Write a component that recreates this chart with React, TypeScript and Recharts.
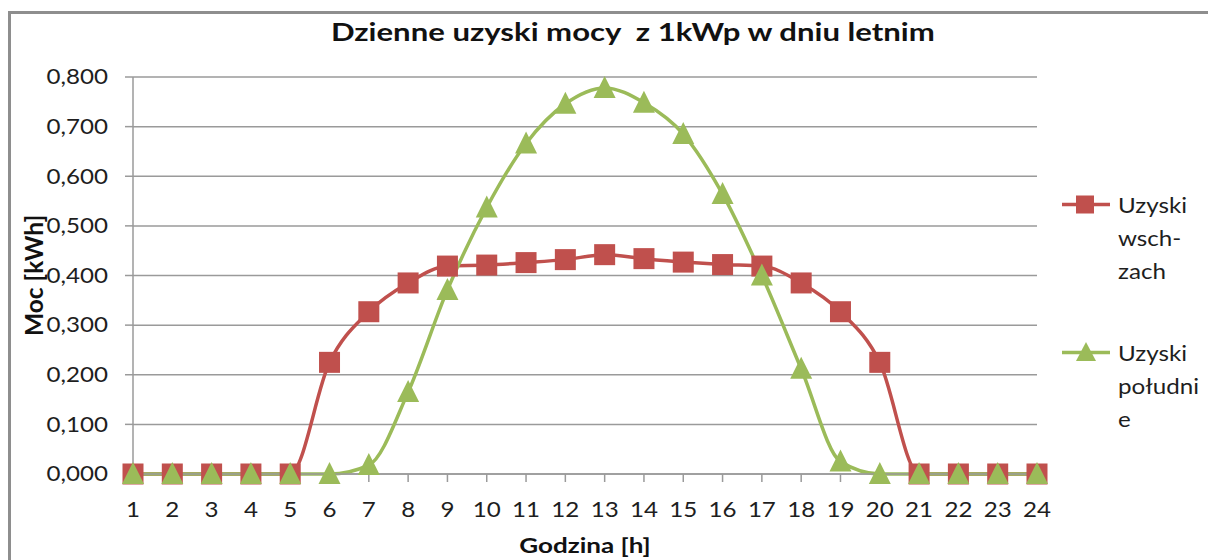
import React from 'react';
import { LineChart, Line, XAxis, YAxis, CartesianGrid } from 'recharts';

const hours = ['1', '2', '3', '4', '5', '6', '7', '8', '9', '10', '11', '12', '13', '14', '15', '16', '17', '18', '19', '20', '21', '22', '23', '24'];
const wschZach = [0, 0, 0, 0, 0, 0.225, 0.327, 0.385, 0.419, 0.421, 0.426, 0.432, 0.442, 0.434, 0.427, 0.422, 0.419, 0.385, 0.327, 0.225, 0, 0, 0, 0];
const poludnie = [0, 0, 0, 0, 0, 0, 0.018, 0.165, 0.371, 0.537, 0.666, 0.746, 0.778, 0.748, 0.685, 0.564, 0.4, 0.212, 0.025, 0, 0, 0, 0, 0];
const yTicks = [0, 0.1, 0.2, 0.3, 0.4, 0.5, 0.6, 0.7, 0.8];

const seriesNames = ['Uzyski wsch-zach', 'Uzyski południe'];
const legendLines = [['Uzyski', 'wsch-', 'zach'], ['Uzyski', 'południ', 'e']];
const title = 'Dzienne uzyski mocy  z 1kWp w dniu letnim';
const xTitle = 'Godzina [h]';
const yTitle = 'Moc [kWh]';

const data = hours.map((h, i) => ({ hour: h, wz: wschZach[i], pd: poludnie[i] }));

const RED = '#C0504D';
const GREEN = '#9BBB59';
const GRID = '#9a9a9a';
const FONT = 'Lato, "Open Sans", sans-serif';
const SX = 1.27; // source picture is stretched horizontally (bold titles)
const SXT = 1.15; // same for the regular texts

const fmt = (v: number) => v.toFixed(3).replace('.', ',');

const YTick = (props: any) => {
  const { x, y, payload } = props;
  return (
    <g transform={`translate(${x},${y})`}>
      <text x={0} y={0} dy="0.35em" textAnchor="end" transform={`scale(${SXT},1)`} fontSize={21} fontFamily={FONT} fill="#1e1e1e">
        {fmt(payload.value)}
      </text>
    </g>
  );
};

const XTick = (props: any) => {
  const { x, y, payload } = props;
  return (
    <g transform={`translate(${x},${y})`}>
      <text x={0} y={0} dy="0.71em" textAnchor="middle" transform={`scale(${SXT},1)`} fontSize={21} fontFamily={FONT} fill="#1e1e1e">
        {payload.value}
      </text>
    </g>
  );
};

const XLabel = (props: any) => {
  const { x, y, width } = props.viewBox;
  return (
    <g transform={`translate(${x + width / 2},${y + 79})`}>
      <text x={0} y={0} textAnchor="middle" transform={`scale(${SX},1)`} fontSize={20.5} fontWeight={700} fontFamily={FONT} fill="#111">
        {xTitle}
      </text>
    </g>
  );
};

const YLabel = (props: any) => {
  const { y, height } = props.viewBox;
  return (
    <text transform={`translate(34,${y + height / 2}) rotate(-90)`} dy="0.36em" textAnchor="middle" fontSize={24.5} fontWeight={700} fontFamily={FONT} fill="#111">
      {yTitle}
    </text>
  );
};

const Square = (props: any) => {
  const { cx, cy } = props;
  if (cx == null || cy == null) return null;
  return <rect x={cx - 10.5} y={cy - 10.5} width={21} height={21} fill={RED} />;
};

const Triangle = (props: any) => {
  const { cx, cy } = props;
  if (cx == null || cy == null) return null;
  return <path d={`M${cx},${cy - 12} L${cx + 11},${cy + 10} L${cx - 11},${cy + 10} Z`} fill={GREEN} />;
};

const LegendBox = () => (
  <div style={{ position: 'absolute', left: 1060, top: 188, fontFamily: FONT, fontSize: 21, color: '#1e1e1e' }}>
    {legendLines.map((lines, i) => (
      <div key={i} title={seriesNames[i]} style={{ display: 'flex', alignItems: 'flex-start', marginBottom: i === 0 ? 49 : 0 }}>
        <svg width={58} height={33} style={{ flex: 'none' }}>
          <line x1={2} x2={50} y1={16.5} y2={16.5} stroke={i === 0 ? RED : GREEN} strokeWidth={3.5} />
          {i === 0 ? (
            <rect x={16} y={7.5} width={18} height={18} fill={RED} />
          ) : (
            <path d="M26,6 L36,25 L16,25 Z" fill={GREEN} />
          )}
        </svg>
        <div style={{ transform: `scaleX(${SXT})`, transformOrigin: 'left', lineHeight: '33px' }}>
          {lines.map((t, j) => (
            <div key={j}>{t}</div>
          ))}
        </div>
      </div>
    ))}
  </div>
);

export default function App() {
  return (
    <div style={{ position: 'absolute', left: 0, top: 0, width: 1208, height: 560, overflow: 'hidden', background: '#fff' }}>
      <div style={{ position: 'absolute', left: 0, top: 0 }}>
        <LineChart width={1208} height={560} data={data} margin={{ top: 77, right: 171, left: 0, bottom: 0 }}>
          <CartesianGrid vertical={false} stroke={GRID} strokeWidth={1.5} />
          <XAxis
            dataKey="hour"
            interval={0}
            height={86}
            tickSize={8}
            tickMargin={20}
            tick={<XTick />}
            axisLine={{ stroke: GRID, strokeWidth: 1.5 }}
            tickLine={{ stroke: GRID, strokeWidth: 1.5 }}
            label={<XLabel />}
          />
          <YAxis
            width={133}
            domain={[0, 0.8]}
            ticks={yTicks}
            tickSize={8}
            tickMargin={17}
            tick={<YTick />}
            axisLine={{ stroke: GRID, strokeWidth: 1.5 }}
            tickLine={{ stroke: GRID, strokeWidth: 1.5 }}
            label={<YLabel />}
          />
          <Line name={seriesNames[0]} type="monotone" dataKey="wz" stroke={RED} strokeWidth={3.5} dot={<Square />} activeDot={false} isAnimationActive={false} />
          <Line name={seriesNames[1]} type="monotone" dataKey="pd" stroke={GREEN} strokeWidth={3.5} dot={<Triangle />} activeDot={false} isAnimationActive={false} />
        </LineChart>
      </div>
      <div style={{ position: 'absolute', left: 8, top: 11, width: 1240, height: 600, border: '3px solid #8e8e8e', boxSizing: 'border-box', pointerEvents: 'none' }} />
      <div
        style={{
          position: 'absolute', left: -171, width: 1266, top: 17, textAlign: 'center',
          fontFamily: FONT, fontWeight: 700, fontSize: 24.5, color: '#111',
          transform: `scaleX(${SX})`, transformOrigin: '0 0', whiteSpace: 'pre',
        }}
      >
        {title}
      </div>
      <LegendBox />
    </div>
  );
}
